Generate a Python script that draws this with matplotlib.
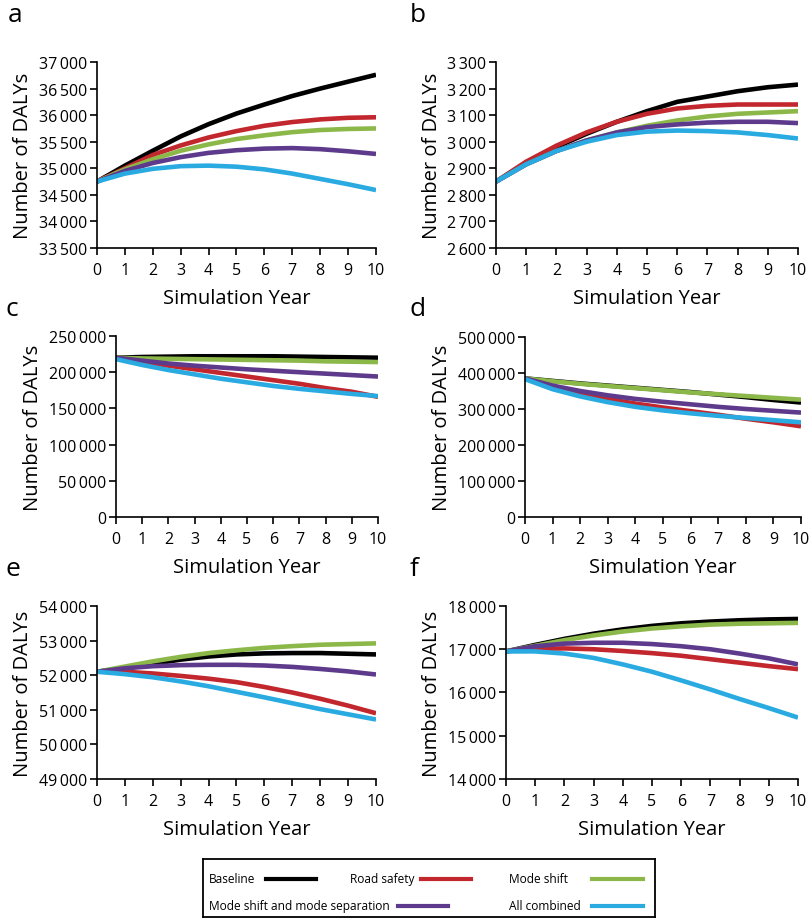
import numpy as np
import matplotlib
matplotlib.use("Agg")
import matplotlib.pyplot as plt
from matplotlib.ticker import FuncFormatter

plt.rcParams['font.family'] = ['Open Sans', 'DejaVu Sans']

# datos
years = list(range(11))
series_names = ["Baseline", "Road safety", "Mode shift",
                "Mode shift and mode separation", "All combined"]
series_colors = ["#000000", "#c1272d", "#8cb84a", "#5e3a8c", "#29aae1"]

# panel a
a_baseline = [34750, 35050, 35330, 35600, 35830, 36030, 36200, 36360, 36500, 36630, 36760]
a_road = [34750, 35000, 35250, 35430, 35580, 35700, 35800, 35870, 35920, 35950, 35960]
a_shift = [34750, 34980, 35170, 35330, 35450, 35550, 35620, 35680, 35720, 35740, 35750]
a_sep = [34750, 34950, 35100, 35210, 35290, 35340, 35370, 35380, 35360, 35320, 35270]
a_all = [34750, 34900, 34990, 35040, 35050, 35030, 34980, 34900, 34800, 34700, 34590]

# panel b
b_baseline = [2850, 2920, 2980, 3030, 3075, 3115, 3150, 3170, 3190, 3205, 3215]
b_road = [2850, 2925, 2985, 3035, 3075, 3105, 3125, 3135, 3140, 3140, 3140]
b_shift = [2850, 2915, 2965, 3005, 3035, 3060, 3080, 3095, 3105, 3110, 3115]
b_sep = [2850, 2915, 2965, 3005, 3035, 3055, 3065, 3072, 3075, 3075, 3070]
b_all = [2850, 2915, 2965, 3000, 3025, 3038, 3042, 3040, 3035, 3025, 3012]

# panel c
c_baseline = [220000, 221000, 221500, 222000, 222000, 222000, 222000, 221500, 221000, 220500, 220000]
c_road = [220000, 215000, 209000, 204000, 199000, 194000, 189000, 184000, 178000, 173000, 166000]
c_shift = [220000, 219000, 218500, 218000, 217500, 217000, 216500, 216000, 215000, 214500, 214000]
c_sep = [220000, 216000, 212000, 209000, 206500, 204000, 202000, 200000, 198000, 196000, 194000]
c_all = [218000, 210000, 203000, 197000, 191000, 186000, 181000, 177000, 173500, 170000, 167000]

# panel d
d_baseline = [385000, 378000, 371000, 365000, 359000, 353000, 347000, 340000, 333000, 325000, 318000]
d_road = [385000, 360000, 342000, 328000, 315000, 304000, 294000, 284000, 273000, 263000, 252000]
d_shift = [385000, 377000, 370000, 364000, 358000, 352000, 346000, 341000, 336000, 331000, 326000]
d_sep = [385000, 365000, 350000, 338000, 328000, 320000, 313000, 306000, 300000, 295000, 290000]
d_all = [383000, 355000, 335000, 319000, 306000, 296000, 288000, 281000, 275000, 269000, 263000]

# panel e
e_baseline = [52100, 52200, 52330, 52450, 52540, 52600, 52630, 52640, 52640, 52620, 52600]
e_road = [52100, 52100, 52050, 51980, 51900, 51800, 51660, 51500, 51320, 51120, 50900]
e_shift = [52100, 52250, 52400, 52530, 52640, 52720, 52790, 52840, 52880, 52900, 52920]
e_sep = [52100, 52200, 52260, 52290, 52300, 52300, 52280, 52240, 52180, 52110, 52020]
e_all = [52100, 52030, 51940, 51820, 51680, 51520, 51360, 51190, 51020, 50870, 50720]

# panel f
f_baseline = [16950, 17100, 17240, 17360, 17460, 17540, 17600, 17640, 17670, 17690, 17700]
f_road = [16950, 17010, 17020, 17000, 16960, 16910, 16850, 16770, 16690, 16610, 16540]
f_shift = [16950, 17080, 17210, 17320, 17410, 17480, 17530, 17570, 17590, 17600, 17610]
f_sep = [16950, 17070, 17130, 17150, 17150, 17120, 17070, 17000, 16900, 16790, 16650]
f_all = [16950, 16950, 16900, 16800, 16650, 16480, 16280, 16070, 15850, 15640, 15420]

a_ticks = list(range(33500, 37001, 500))
b_ticks = list(range(2600, 3301, 100))
c_ticks = list(range(0, 250001, 50000))
d_ticks = list(range(0, 500001, 100000))
e_ticks = list(range(49000, 54001, 1000))
f_ticks = list(range(14000, 18001, 1000))

W, H = 812, 920


def rect(x0, x1, ytop, ybot):
    return [x0 / W, 1 - ybot / H, (x1 - x0) / W, (ybot - ytop) / H]


def miles(v, pos):
    s = f"{int(v):,}"
    return s.replace(",", "\u2009")


fig = plt.figure(figsize=(8.12, 9.2), dpi=100)

paneles = [
    ("a", rect(97, 376, 63, 249), [a_baseline, a_road, a_shift, a_sep, a_all], a_ticks, (8, 15)),
    ("b", rect(496, 798, 63, 249), [b_baseline, b_road, b_shift, b_sep, b_all], b_ticks, (410, 15)),
    ("c", rect(116, 378, 337, 518), [c_baseline, c_road, c_shift, c_sep, c_all], c_ticks, (6, 309)),
    ("d", rect(525, 801, 338, 518), [d_baseline, d_road, d_shift, d_sep, d_all], d_ticks, (410, 309)),
    ("e", rect(97, 376, 607, 780), [e_baseline, e_road, e_shift, e_sep, e_all], e_ticks, (6, 570)),
    ("f", rect(506, 798, 607, 780), [f_baseline, f_road, f_shift, f_sep, f_all], f_ticks, (410, 570)),
]

for letra, pos, datos, ticks, lpos in paneles:
    ax = fig.add_axes(pos)
    for serie, color in zip(datos, series_colors):
        ax.plot(years, serie, color=color, lw=3.3, solid_capstyle="butt")
    ax.set_xlim(0, 10)
    ax.set_ylim(ticks[0], ticks[-1])
    ax.set_xticks(years)
    ax.set_yticks(ticks)
    ax.yaxis.set_major_formatter(FuncFormatter(miles))
    ax.spines["top"].set_visible(False)
    ax.spines["right"].set_visible(False)
    ax.spines["left"].set_linewidth(1.2)
    ax.spines["bottom"].set_linewidth(1.2)
    ax.tick_params(axis="y", direction="out", length=5, width=1.2, labelsize=11.5, pad=2)
    ax.tick_params(axis="x", direction="out", length=5, width=1.2, labelsize=11.5, pad=5)
    ax.set_xlabel("Simulation Year", fontsize=14.5, labelpad=7)
    ax.set_ylabel("Number of DALYs", fontsize=14.5, labelpad=4)
    fig.text(lpos[0] / W, 1 - lpos[1] / H, letra, fontsize=19, va="center", ha="left")

# leyenda dibujada a mano
leg = fig.add_axes(rect(203, 655, 860, 918))
leg.set_xlim(0, 452)
leg.set_ylim(58, 0)
leg.set_xticks([])
leg.set_yticks([])
for s in leg.spines.values():
    s.set_linewidth(1.3)

entradas = [
    (series_names[0], 6, 20, 63, 113, series_colors[0]),
    (series_names[1], 147, 20, 218, 268, series_colors[1]),
    (series_names[2], 306, 20, 389, 440, series_colors[2]),
    (series_names[3], 6, 47, 195, 245, series_colors[3]),
    (series_names[4], 306, 47, 389, 440, series_colors[4]),
]
for nombre, tx, ty, lx0, lx1, color in entradas:
    leg.text(tx, ty, nombre, fontsize=8.6, va="center", ha="left")
    leg.plot([lx0, lx1], [ty, ty], color=color, lw=3)

fig.savefig("out.png", dpi=100)
